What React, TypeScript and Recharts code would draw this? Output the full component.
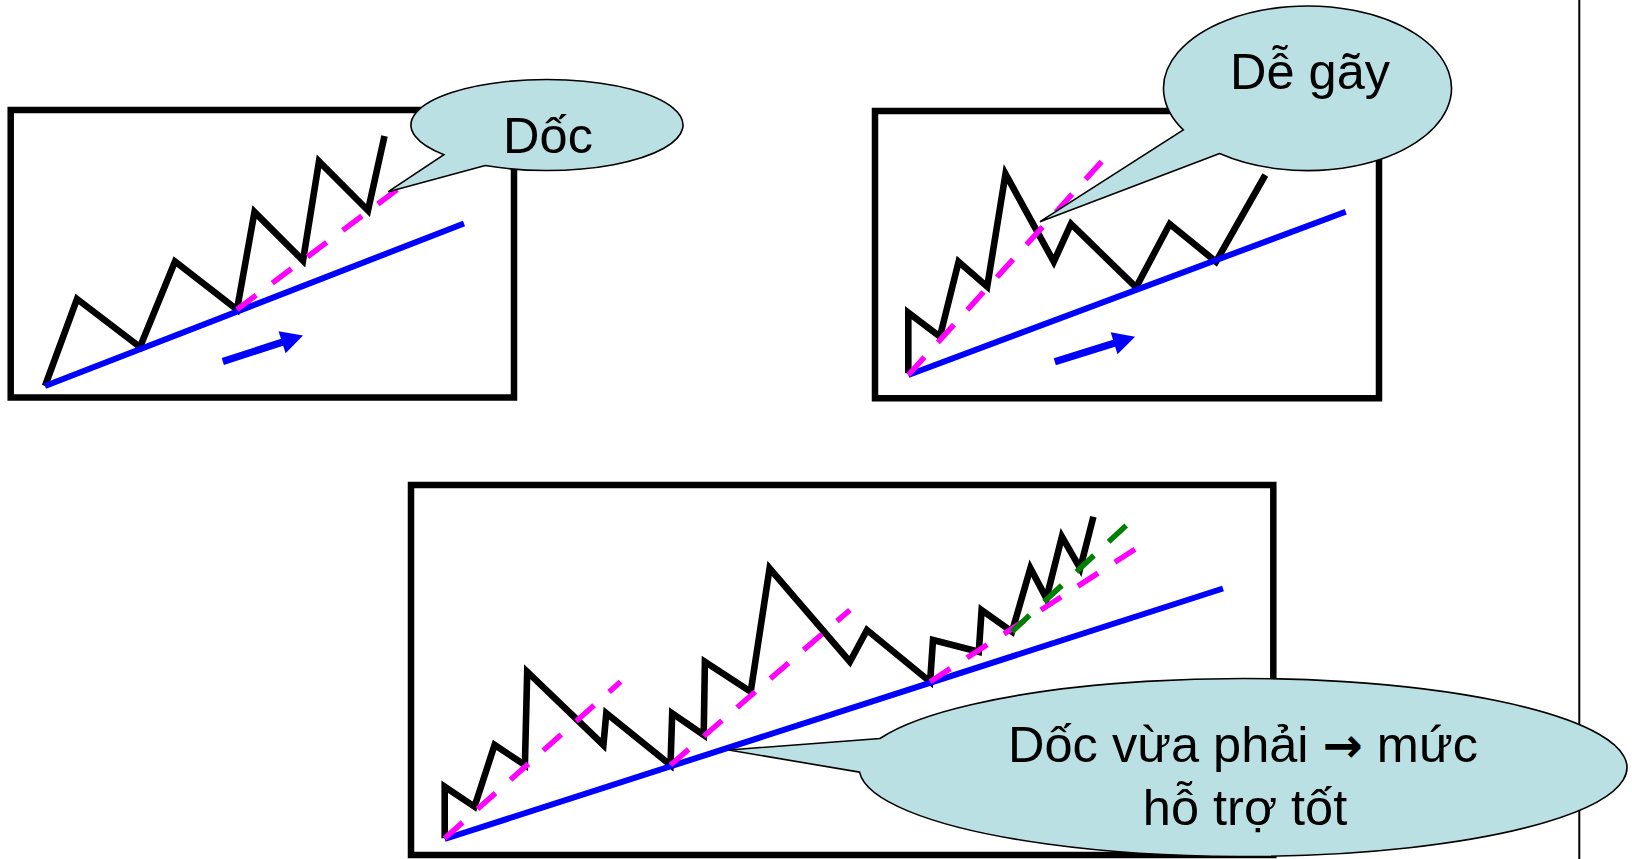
import React from 'react';
import {
  ComposedChart,
  Line,
  Scatter,
  XAxis,
  YAxis,
  ReferenceArea,
  ReferenceLine,
} from 'recharts';

const W = 1632;
const H = 859;

// ---------- Panel 1: "Dốc" (steep trend) ----------
const steepPrice = [
  { x: 45, y: 386 }, { x: 77, y: 299 }, { x: 140, y: 347 }, { x: 175, y: 261.5 },
  { x: 237, y: 309.5 }, { x: 254.5, y: 212 }, { x: 303, y: 260.5 }, { x: 319, y: 161.5 },
  { x: 368, y: 210.5 }, { x: 384.5, y: 136 },
];
const steepSupport = [{ x: 45, y: 386 }, { x: 464, y: 223.5 }];
const steepTrend = [{ x: 237, y: 309.5 }, { x: 402, y: 186 }];

// ---------- Panel 2: "Dễ gãy" (fragile trend) ----------
const fragilePrice = [
  { x: 908.3, y: 373.3 }, { x: 908.3, y: 312.7 }, { x: 939.9, y: 336.7 }, { x: 958.6, y: 261.7 },
  { x: 987.2, y: 286.7 }, { x: 1005.5, y: 174 }, { x: 1053.8, y: 261.7 }, { x: 1071, y: 224 },
  { x: 1136.1, y: 287.3 }, { x: 1169.7, y: 224 }, { x: 1216, y: 261.7 }, { x: 1265.3, y: 175 },
];
const fragileSupport = [{ x: 908.3, y: 375 }, { x: 1345.7, y: 211.7 }];
const fragileTrend = [{ x: 908.3, y: 375 }, { x: 1101.6, y: 161.7 }];

// ---------- Panel 3: "Dốc vừa phải" (moderate trend) ----------
const moderatePrice = [
  { x: 444.7, y: 838.3 }, { x: 444.7, y: 786.7 }, { x: 474.5, y: 806.7 }, { x: 494.6, y: 745 },
  { x: 524.9, y: 765 }, { x: 527.2, y: 671.7 }, { x: 603.4, y: 745 }, { x: 606.3, y: 713.3 },
  { x: 670.5, y: 765 }, { x: 672.2, y: 713.3 }, { x: 703.7, y: 735 }, { x: 704.9, y: 661.7 },
  { x: 750.7, y: 691.7 }, { x: 769.6, y: 568.3 }, { x: 849.9, y: 661.7 }, { x: 867, y: 630 },
  { x: 930.1, y: 681.7 }, { x: 933, y: 640 }, { x: 978.8, y: 651.7 }, { x: 981.6, y: 610 },
  { x: 1012, y: 631.7 }, { x: 1030.4, y: 568.3 }, { x: 1046.4, y: 598.3 }, { x: 1061.9, y: 536.7 },
  { x: 1080.2, y: 568.3 }, { x: 1093.4, y: 516.7 },
];
const moderateSupport = [{ x: 444.7, y: 839 }, { x: 1223, y: 588.5 }];
const moderateTrend1 = [{ x: 444.7, y: 838.3 }, { x: 620.6, y: 681.7 }];
const moderateTrend2 = [{ x: 670.5, y: 765 }, { x: 849.9, y: 610 }];
const moderateTrend3 = [{ x: 930.1, y: 681.7 }, { x: 1148.5, y: 540.5 }];
const moderateTrendFast = [{ x: 1012, y: 631.7 }, { x: 1126.6, y: 525 }];

// ---------- Frames, direction arrows, divider ----------
const frames = [
  { x1: 10.7, x2: 514, y1: 110, y2: 397.5 },
  { x1: 875, x2: 1379, y1: 111, y2: 398.3 },
  { x1: 411, x2: 1273.3, y1: 485, y2: 855 },
];
const arrows = [
  { x: 303, y: 335.5, tailX: 222.8, tailY: 361.5 },
  { x: 1135.1, y: 336.7, tailX: 1054.8, tailY: 361.7 },
];
const dividerX = 1579.3;

// ---------- Callouts (each line split into text parts; '→' drawn with an arrow font) ----------
const callouts = [
  { id: 0, x: 547, y: 125, tipX: 388.3, tipY: 191.7, lines: [['Dốc']] },
  { id: 1, x: 1307.5, y: 88.3, tipX: 1040, tipY: 221.7, lines: [['Dễ gãy']] },
  { id: 2, x: 1243, y: 767.5, tipX: 728.6, tipY: 750, lines: [['Dốc vừa phải ', '→', ' mức'], ['hỗ trợ tốt']] },
];

// styles / geometry of callout balloons (pixels)
const calloutStyle: Record<number, { rx: number; ry: number; a1: number; a2: number; fontSize: number; textDx: number[]; textDy: number[] }> = {
  0: { rx: 136, ry: 45.5, a1: 117, a2: 139.3, fontSize: 50.5, textDx: [1], textDy: [28] },
  1: { rx: 144, ry: 82.3, a1: 127.6, a2: 149.6, fontSize: 50.5, textDx: [2.5], textDy: [1] },
  2: { rx: 384, ry: 89, a1: 177, a2: 199, fontSize: 50.5, textDx: [0, 2], textDy: [-5.8, 57.5] },
};

const FONT = '"Liberation Sans", Arial, Helvetica, sans-serif';
const ARROW_FONT = '"DejaVu Sans", sans-serif';
const BALLOON_FILL = '#BBE0E3';
// plot maps one data unit to one pixel on both axes
const KX = 1;
const KY = 1;

const CalloutShape = (props: any) => {
  const { cx, cy, payload } = props;
  if (cx == null || cy == null || !payload) return null;
  const st = calloutStyle[payload.id];
  const tx = cx + (payload.tipX - payload.x) * KX;
  const ty = cy + (payload.tipY - payload.y) * KY;
  const r1 = (st.a1 * Math.PI) / 180;
  const r2 = (st.a2 * Math.PI) / 180;
  const p1x = cx + st.rx * Math.cos(r1);
  const p1y = cy + st.ry * Math.sin(r1);
  const p2x = cx + st.rx * Math.cos(r2);
  const p2y = cy + st.ry * Math.sin(r2);
  const d = `M${p1x},${p1y} L${tx},${ty} L${p2x},${p2y} A${st.rx},${st.ry} 0 1 1 ${p1x},${p1y} Z`;
  return (
    <g>
      <path d={d} fill={BALLOON_FILL} stroke="#000" strokeWidth={1.6} strokeLinejoin="miter" />
      {payload.lines.map((parts: string[], i: number) => (
        <text
          key={i}
          x={cx + st.textDx[i]}
          y={cy + st.textDy[i]}
          textAnchor="middle"
          fontFamily={FONT}
          fontSize={st.fontSize}
          fill="#000"
        >
          {parts.map((p, j) =>
            p === '→' ? (
              <tspan key={j} fontFamily={ARROW_FONT} fontWeight="bold" fontSize={st.fontSize * 0.95}>
                {p}
              </tspan>
            ) : (
              <tspan key={j}>{p}</tspan>
            ),
          )}
        </text>
      ))}
    </g>
  );
};

const ArrowShape = (props: any) => {
  const { cx, cy, payload } = props;
  if (cx == null || cy == null || !payload) return null;
  const dx = (payload.x - payload.tailX) * KX;
  const dy = (payload.y - payload.tailY) * KY;
  const len = Math.sqrt(dx * dx + dy * dy);
  const ux = dx / len;
  const uy = dy / len;
  const nx = -uy;
  const ny = ux;
  const shaftHalf = 3.6;
  const headHalf = 11.5;
  const headLen = 22;
  const tailX = cx - dx;
  const tailY = cy - dy;
  const bx = cx - ux * headLen;
  const by = cy - uy * headLen;
  const pts = [
    [tailX + nx * shaftHalf, tailY + ny * shaftHalf],
    [bx + nx * shaftHalf, by + ny * shaftHalf],
    [bx + nx * headHalf, by + ny * headHalf],
    [cx, cy],
    [bx - nx * headHalf, by - ny * headHalf],
    [bx - nx * shaftHalf, by - ny * shaftHalf],
    [tailX - nx * shaftHalf, tailY - ny * shaftHalf],
  ];
  return <polygon points={pts.map((p) => p.join(',')).join(' ')} fill="#0000FF" />;
};

const BLACK = '#000000';
const BLUE = '#0000FF';
const MAGENTA = '#FF00FF';
const GREEN = '#008000';
const DASH = '24 20';

export default function App() {
  const lineCommon = {
    dataKey: 'y',
    type: 'linear' as const,
    dot: false,
    activeDot: false,
    isAnimationActive: false,
    legendType: 'none' as const,
  };
  return (
    <div style={{ position: 'fixed', left: 0, top: 0, width: W, height: H, background: '#fff' }}>
      <ComposedChart width={W} height={H} margin={{ top: 0, right: 0, bottom: 0, left: 0 }}>
        <XAxis type="number" dataKey="x" domain={[0, W]} hide allowDataOverflow />
        <YAxis type="number" dataKey="y" domain={[0, H]} reversed hide allowDataOverflow />

        {frames.map((f, i) => (
          <ReferenceArea
            key={`f${i}`}
            x1={f.x1}
            x2={f.x2}
            y1={f.y1}
            y2={f.y2}
            fill="none"
            fillOpacity={0}
            stroke={BLACK}
            strokeWidth={6.5}
            ifOverflow="visible"
          />
        ))}
        <ReferenceLine x={dividerX} stroke={BLACK} strokeWidth={2} ifOverflow="visible" />

        <Line {...lineCommon} data={steepPrice} stroke={BLACK} strokeWidth={6.6} />
        <Line {...lineCommon} data={fragilePrice} stroke={BLACK} strokeWidth={6.6} />
        <Line {...lineCommon} data={moderatePrice} stroke={BLACK} strokeWidth={6.6} />

        <Line {...lineCommon} data={steepSupport} stroke={BLUE} strokeWidth={6} />
        <Line {...lineCommon} data={fragileSupport} stroke={BLUE} strokeWidth={6} />
        <Line {...lineCommon} data={moderateSupport} stroke={BLUE} strokeWidth={6} />

        <Line {...lineCommon} data={steepTrend} stroke={MAGENTA} strokeWidth={5.5} strokeDasharray={DASH} />
        <Line {...lineCommon} data={fragileTrend} stroke={MAGENTA} strokeWidth={5.5} strokeDasharray={DASH} />
        <Line {...lineCommon} data={moderateTrend1} stroke={MAGENTA} strokeWidth={5.5} strokeDasharray={DASH} />
        <Line {...lineCommon} data={moderateTrend2} stroke={MAGENTA} strokeWidth={5.5} strokeDasharray={DASH} />
        <Line {...lineCommon} data={moderateTrend3} stroke={MAGENTA} strokeWidth={5.5} strokeDasharray={DASH} />
        <Line {...lineCommon} data={moderateTrendFast} stroke={GREEN} strokeWidth={5.5} strokeDasharray={DASH} />

        <Scatter data={arrows} dataKey="y" shape={ArrowShape} isAnimationActive={false} legendType="none" />
        <Scatter data={callouts} dataKey="y" shape={CalloutShape} isAnimationActive={false} legendType="none" />
      </ComposedChart>
    </div>
  );
}
